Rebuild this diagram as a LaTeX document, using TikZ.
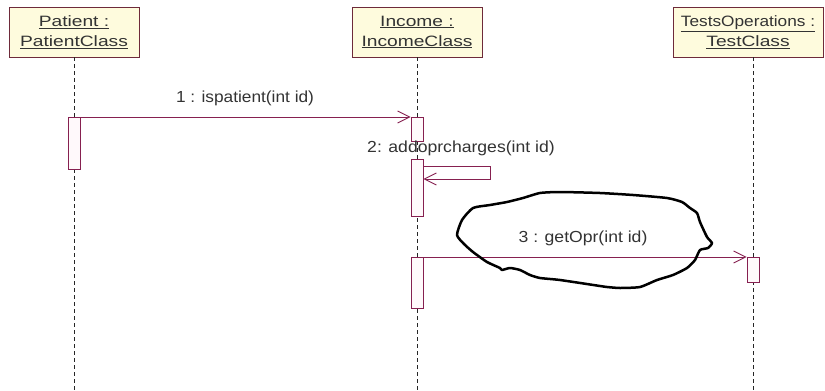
\documentclass[tikz,border=0pt]{standalone}
\usepackage{fontspec}
\setmainfont{Liberation Sans}
\usetikzlibrary{arrows.meta}
\definecolor{boxfill}{HTML}{FEFBDD}
\definecolor{boxline}{HTML}{6E2A3A}
\definecolor{msgline}{HTML}{862050}
\definecolor{actfill}{HTML}{FFF9FB}
\definecolor{txt}{HTML}{333333}
\newcommand{\hstr}[2]{\scalebox{#1}[1]{#2}}
\tikzset{
  objbox/.style={draw=boxline, fill=boxfill, line width=1pt, minimum height=50pt, inner sep=0pt,
    align=center, text=txt, font=\fontsize{15}{20}\selectfont},
  life/.style={draw=black!85, line width=0.9pt, dash pattern=on 4pt off 3pt},
  act/.style={draw=msgline, fill=actfill, line width=0.9pt, minimum width=12pt, inner sep=0pt, anchor=north},
  msg/.style={draw=msgline, line width=0.9pt, -{Straight Barb[length=12pt,width=12pt,line width=0.9pt]}},
  lbl/.style={text=txt, font=\fontsize{16}{18}\selectfont, inner sep=0pt},
  hand/.style={draw=black, line width=2.5pt, line join=round, line cap=round}
}
\begin{document}
\begin{tikzpicture}[x=1pt, y=-1pt]
\useasboundingbox (0,0) rectangle (825,391);
% object boxes
\node[objbox, minimum width=130pt] (p) at (74,32) {\hstr{1.28}{\underline{Patient :}}\\\hstr{1.28}{\underline{PatientClass}}};
\node[objbox, minimum width=130pt] (i) at (417,32) {\hstr{1.28}{\underline{Income :}}\\\hstr{1.28}{\underline{IncomeClass}}};
\node[objbox, minimum width=150pt] (t) at (748,32) {\hstr{1.15}{\underline{TestsOperations :}}\\\hstr{1.28}{\underline{TestClass}}};
% lifeline ends
\coordinate (pt) at (74,57); \coordinate (pb) at (74,391);
\coordinate (it) at (417,57); \coordinate (ib) at (417,391);
\coordinate (tt) at (753,57); \coordinate (tb) at (753,391);
\draw[life] (pt) -- (pb);
\draw[life] (it) -- (ib);
\draw[life] (tt) -- (tb);
% activations
\node[act, minimum height=52pt] (a1) at (74,117) {};
\node[act, minimum height=24pt] (b1) at (417,117) {};
\node[act, minimum height=57pt] (b2) at (417,159) {};
\node[act, minimum height=51pt] (b3) at (417,257) {};
\node[act, minimum height=25pt] (c1) at (753,257) {};
% message 1
\draw[msg] (a1.north east) -- (b1.north west);
\node[lbl] (m1) at (245,98) {\hstr{1.08}{1 : ispatient(int id)}};
% message 2 (self)
\coordinate (s1) at (490,166);
\coordinate (s2) at (490,179);
\draw[msg] (b2.east |- s1) -- (s1) -- (s2) -- (b2.east |- s2);
\node[lbl] (m2) at (461,148) {\hstr{1.1}{2: addoprcharges(int id)}};
% message 3
\draw[msg] (b3.north east) -- (c1.north west);
\node[lbl] (m3) at (583,238) {\hstr{1.1}{3 : getOpr(int id)}};
% hand-drawn loop
\draw[hand] plot[smooth cycle, tension=0.35] coordinates {
 (457,235) (462,220) (473,208) (490,205) (507,202) (523,198) (540,193) (560,192)
 (600,193) (633,195) (667,198) (682,202) (690,208) (697,213) (700,222) (707,237)
 (712,243) (708,248) (700,250) (695,260) (687,268) (673,275) (657,280) (640,287)
 (620,288) (607,287) (600,286) (560,280) (540,278) (530,275) (520,270) (510,268)
 (502,270) (500,268) (487,262) (473,252) (464,244)};
\end{tikzpicture}
\end{document}
